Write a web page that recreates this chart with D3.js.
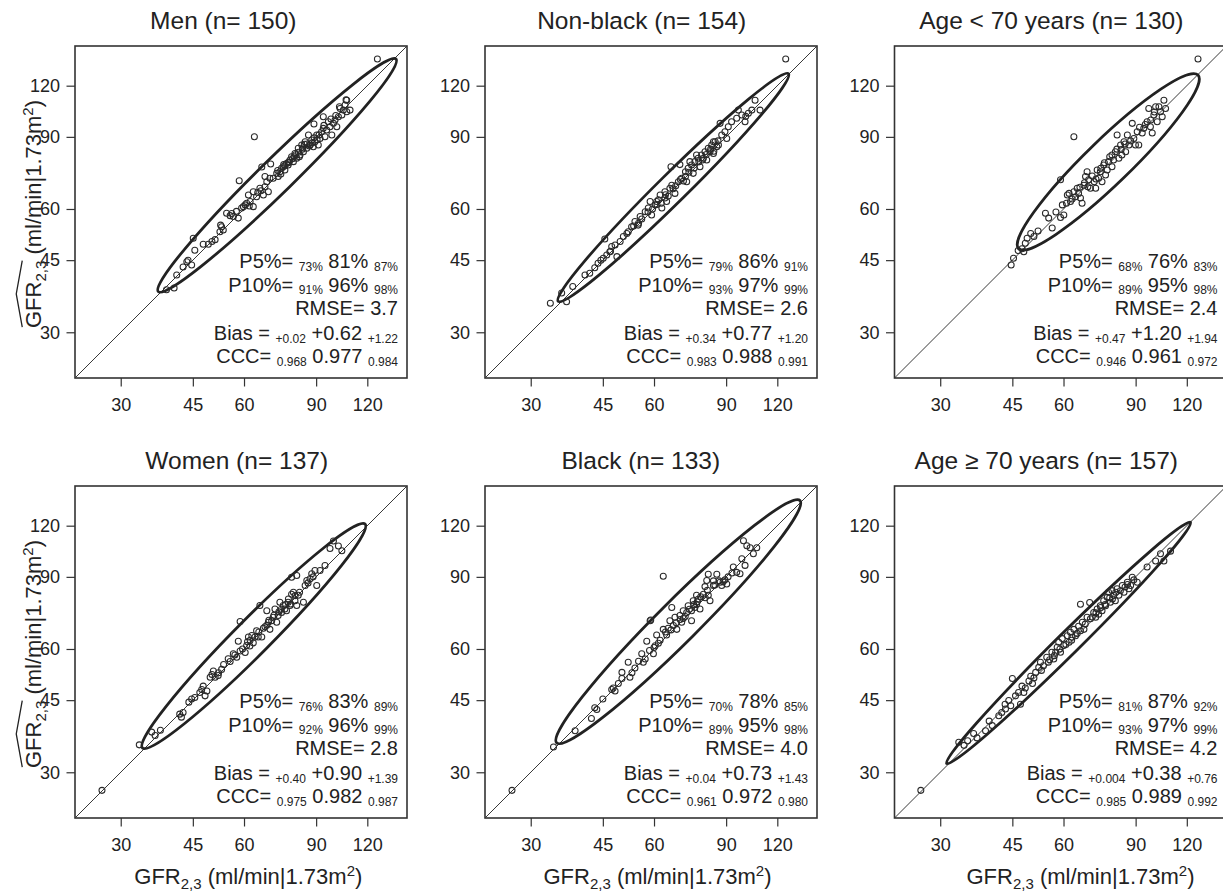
<!DOCTYPE html>
<html><head><meta charset="utf-8">
<script src="https://cdn.jsdelivr.net/npm/d3@7"></script>
<style>
body{margin:0;background:#fff}
svg{display:block}
text{font-family:"Liberation Sans",Arial,Helvetica,sans-serif;fill:#222}
</style>
</head><body>
<svg id="chart" width="1223" height="892"></svg>
<script>
// ---------------- DATA ----------------
const panelTitles = ["Men (n= 150)", "Non-black (n= 154)", "Age < 70 years (n= 130)",
                     "Women (n= 137)", "Black (n= 133)", "Age \u2265 70 years (n= 157)"];
const tickValues = [30, 45, 60, 90, 120];
const axisDomain = [23.2, 150];

const ptsMen = [[38.8,38.1],[40.5,38.5],[41.1,41.4],[42.6,43.3],[43.5,44.6],[44.7,43.8],[43.8,45.0],[45.5,47.6],[45.1,50.9],[47.7,49.2],[49.1,49.2],[50.1,50.0],[51.0,50.5],[52.4,52.8],[52.9,54.3],[53.4,53.3],[52.6,54.8],[54.4,58.6],[55.5,57.8],[56.5,57.5],[58.1,57.0],[59.2,60.3],[59.8,60.8],[60.4,61.4],[60.9,62.0],[62.1,62.6],[63.2,60.8],[61.5,64.9],[63.2,66.1],[64.4,64.3],[65.6,67.4],[66.9,64.9],[67.5,68.0],[68.2,69.9],[68.8,66.1],[67.5,72.0],[69.4,71.3],[70.7,71.3],[72.1,73.3],[72.7,72.0],[73.4,74.0],[74.1,75.4],[74.8,76.1],[75.5,74.7],[76.2,77.5],[76.9,76.8],[77.7,79.0],[78.4,80.5],[79.2,78.3],[79.9,82.0],[80.7,79.8],[81.4,84.4],[82.2,81.3],[83.0,86.0],[83.8,82.8],[84.6,87.6],[85.4,84.4],[86.2,90.9],[87.0,86.0],[87.8,88.4],[88.6,85.1],[89.4,87.6],[90.3,90.9],[91.1,86.0],[92.0,89.2],[92.8,92.6],[93.7,94.4],[94.6,90.1],[95.5,93.5],[93.7,100.8],[96.4,98.0],[97.3,95.3],[98.3,90.9],[99.2,97.1],[100.1,98.9],[101.1,95.3],[102.0,100.8],[103.0,105.6],[104.0,101.8],[104.9,104.6],[106.9,103.6],[108.9,104.6],[105.9,107.6],[106.9,110.6],[102.6,106.6],[63.6,90.1],[58.4,70.3],[66.3,76.0],[69.7,77.3],[88.9,96.8],[106.5,110.8],[127.0,139.4],[79.5,80.5],[81.5,82.5],[83.5,84.5],[85.5,86.5],[88.0,87.0],[75.5,76.5],[77.0,78.0],[90.5,88.5],[72.5,74.5],[73.8,73.0],[75.0,77.0],[77.3,77.9],[78.8,79.6],[80.2,81.4],[81.9,80.5],[83.3,83.9],[84.2,86.3],[86.6,85.5],[89.0,89.5],[91.5,91.0],[94.0,96.0],[97.8,99.5],[100.5,101.5],[56.0,58.5],[57.5,59.2],[61.8,61.0],[64.8,65.8],[66.0,66.5]];

const ptsNonBlack = [[125.8,139.4],[33.5,35.3],[35.7,37.4],[36.7,35.6],[40.7,41.4],[41.8,41.8],[43.0,43.1],[43.8,44.2],[45.1,45.5],[45.5,50.7],[46.0,46.3],[46.8,47.2],[48.2,49.0],[48.7,45.9],[49.6,50.0],[50.5,51.4],[51.5,52.3],[52.9,54.3],[53.9,55.9],[55.5,57.5],[56.0,56.7],[57.1,59.1],[58.1,60.3],[58.7,62.6],[59.2,58.0],[60.4,61.4],[61.5,63.2],[62.1,64.9],[62.7,60.3],[63.8,66.1],[64.4,62.6],[65.6,67.4],[66.3,68.6],[66.0,76.1],[69.4,77.0],[67.5,65.5],[68.8,69.9],[70.1,71.3],[71.6,74.0],[72.1,69.9],[72.7,75.4],[74.1,76.8],[74.8,73.3],[75.5,78.3],[76.9,79.8],[77.7,76.1],[78.4,81.3],[79.9,82.8],[80.7,79.0],[81.4,84.4],[83.0,86.0],[83.8,82.0],[84.6,87.6],[86.2,86.0],[87.8,90.9],[87.0,97.1],[89.4,92.6],[90.3,89.2],[91.1,95.3],[92.8,98.0],[95.5,99.9],[96.4,104.6],[98.3,101.8],[100.1,98.0],[102.0,102.8],[104.0,104.6],[105.9,110.6],[108.9,104.6],[71.6,72.0],[76.2,81.3],[79.2,79.8],[82.2,82.8],[85.4,85.1],[63.8,63.8],[60.9,62.6],[54.9,54.8],[51.9,52.8],[47.3,48.6],[73.4,78.3],[83.8,87.6],[58.0,59.0],[59.5,60.0],[61.0,61.5],[62.5,62.0],[64.0,65.0],[65.0,64.5],[66.8,67.2],[67.8,68.4],[69.6,70.8],[70.8,70.2],[73.0,73.8],[75.2,75.5],[77.2,78.2],[78.8,79.0],[80.5,81.5],[82.5,84.0],[84.0,83.0],[86.0,88.0],[44.5,45.0],[47.0,47.3],[53.5,54.5],[55.0,55.4],[38.0,38.8],[100.5,101.0]];

const ptsAgeLt70 = [[127.8,139.4],[63.6,90.1],[44.7,43.8],[45.3,45.5],[47.5,48.0],[48.4,49.5],[48.0,47.2],[49.9,52.3],[48.9,50.9],[54.2,58.6],[55.2,57.0],[56.3,53.9],[59.0,57.2],[60.1,58.0],[59.6,61.4],[59.0,70.7],[61.3,64.9],[62.4,62.6],[63.6,66.1],[64.2,64.3],[64.8,67.4],[66.0,63.8],[66.6,62.0],[67.3,68.6],[68.5,74.0],[69.1,70.7],[69.8,67.4],[71.3,69.9],[72.5,74.7],[73.1,71.3],[74.5,69.9],[75.2,76.8],[73.8,74.0],[76.7,74.7],[77.3,78.3],[78.8,76.1],[80.3,82.8],[81.1,90.9],[81.9,79.8],[82.7,86.0],[84.3,87.6],[85.1,82.8],[85.9,90.9],[86.7,86.0],[88.3,97.1],[89.1,89.2],[90.8,92.6],[91.6,86.0],[93.4,92.0],[94.2,94.4],[96.0,98.0],[96.9,105.6],[97.8,95.3],[99.7,101.8],[100.7,106.6],[101.6,98.0],[103.5,103.6],[105.5,110.6],[106.5,105.6],[104.5,100.8],[98.8,92.0],[76.0,72.6],[71.9,67.4],[65.3,65.5],[78.8,81.3],[83.3,81.3],[89.9,86.0],[102.6,106.6],[50.8,51.4],[61.9,65.5],[67.9,72.0],[67.5,69.5],[68.8,68.0],[70.5,72.2],[72.0,71.0],[74.0,75.4],[75.5,77.8],[77.8,80.5],[79.5,79.0],[81.0,84.0],[83.0,83.8],[84.8,86.5],[87.5,88.0],[92.0,95.0],[95.0,96.5],[98.0,99.0],[100.0,103.5],[63.0,63.5],[65.8,67.8],[61.0,62.0],[57.5,59.0],[52.0,53.0],[46.5,47.5]];

const ptsWomen = [[27.0,27.1],[33.3,35.0],[35.7,37.6],[36.4,36.9],[41.8,41.6],[42.6,42.0],[42.2,40.9],[44.7,45.3],[45.5,45.7],[46.8,47.0],[47.3,47.8],[47.7,48.7],[48.2,46.1],[49.6,51.2],[50.1,52.0],[51.0,51.2],[51.9,51.7],[50.5,53.0],[54.9,56.8],[55.5,55.9],[57.6,57.3],[58.7,59.3],[58.1,62.7],[58.7,70.0],[60.4,58.8],[60.9,61.2],[62.1,63.0],[62.7,64.7],[63.2,62.1],[64.4,66.5],[65.6,76.6],[66.3,64.2],[66.9,67.4],[68.2,74.4],[68.8,69.7],[69.4,67.0],[70.7,71.7],[71.4,75.1],[72.1,69.7],[73.4,78.0],[74.1,73.7],[74.8,76.6],[76.2,74.4],[76.9,78.0],[78.4,81.6],[79.2,82.5],[79.9,78.7],[78.4,89.8],[80.7,90.7],[83.8,78.0],[84.6,85.7],[85.4,88.2],[87.0,89.1],[87.8,91.6],[89.4,93.3],[90.3,85.7],[92.0,93.3],[94.6,95.9],[97.3,105.5],[99.2,110.1],[102.0,107.1],[104.0,104.2],[52.9,53.5],[56.5,58.4],[61.5,64.2],[70.1,70.3],[72.7,72.4],[75.5,75.1],[77.7,76.6],[81.4,81.2],[80.7,76.6],[68.2,68.6],[65.0,64.2],[48.7,47.4],[57.0,58.0],[59.5,60.0],[61.2,62.5],[62.0,61.0],[63.8,64.2],[65.2,66.0],[67.5,68.0],[69.0,70.5],[71.0,72.5],[73.0,74.0],[74.0,75.0],[75.8,77.0],[77.0,79.5],[78.0,77.3],[80.0,81.0],[82.0,82.5],[86.0,87.0],[88.5,90.0],[52.0,52.5],[53.5,55.0],[44.0,44.5],[37.5,38.0]];

const ptsBlack = [[27.0,27.1],[34.1,34.6],[38.5,37.9],[42.2,40.6],[43.0,43.1],[43.5,42.7],[47.3,47.8],[47.7,48.2],[48.2,47.4],[49.1,49.4],[50.1,50.8],[50.1,52.6],[52.4,51.2],[53.9,53.9],[51.9,55.7],[56.0,58.4],[56.5,55.7],[57.1,56.7],[57.6,62.7],[59.8,58.4],[60.4,61.1],[60.9,64.9],[62.1,63.0],[63.2,67.0],[64.4,64.9],[65.6,70.3],[66.3,75.8],[58.7,70.3],[58.9,70.6],[63.2,90.3],[66.9,68.5],[67.5,71.7],[68.2,67.0],[69.4,72.4],[70.1,69.7],[70.7,74.4],[72.1,73.7],[72.7,76.5],[74.1,70.3],[74.8,78.7],[75.5,75.8],[76.2,77.1],[76.9,79.4],[77.7,75.1],[79.2,81.6],[79.9,85.2],[80.7,88.2],[81.4,81.2],[82.2,78.7],[81.4,91.3],[83.8,88.0],[85.4,91.3],[87.0,87.3],[87.8,85.7],[89.4,88.5],[90.3,86.5],[93.7,95.1],[95.5,92.3],[97.3,91.6],[98.3,99.7],[100.1,96.0],[101.1,107.2],[103.0,106.0],[104.9,102.5],[106.9,106.0],[99.2,110.3],[74.1,74.4],[76.2,81.2],[83.8,85.7],[70.7,71.2],[65.0,67.4],[60.0,60.5],[61.5,62.0],[64.0,66.0],[66.0,66.8],[68.0,69.5],[69.5,70.8],[71.5,72.0],[73.2,75.0],[75.0,77.0],[76.5,78.2],[78.0,80.5],[80.0,80.0],[81.0,83.5],[84.5,86.0],[86.5,88.0],[88.5,87.5],[91.0,90.0],[93.0,92.0],[55.0,56.0],[53.0,52.5],[45.0,45.3],[58.5,59.5]];

const ptsAgeGe70 = [[26.9,27.1],[33.3,35.5],[34.3,34.9],[36.2,37.3],[36.9,36.4],[38.7,37.9],[40.2,39.0],[41.7,41.2],[42.4,42.0],[43.3,42.8],[44.1,44.9],[45.0,50.8],[44.6,43.6],[45.8,46.1],[46.6,47.0],[47.1,44.0],[47.5,48.7],[48.4,48.2],[49.4,50.1],[49.9,51.5],[50.4,49.4],[51.3,52.6],[52.2,54.1],[52.7,55.7],[53.6,54.6],[54.6,57.3],[55.1,55.7],[56.2,58.9],[56.8,56.7],[57.9,60.6],[58.4,62.3],[59.0,58.9],[59.6,63.6],[60.1,61.2],[61.3,64.6],[61.9,62.3],[62.4,65.9],[63.6,67.0],[64.2,64.6],[66.0,77.2],[69.5,77.9],[65.3,68.2],[66.7,69.7],[67.3,67.0],[68.5,71.7],[69.8,71.1],[71.1,73.7],[71.9,71.7],[72.5,75.1],[73.8,76.5],[74.5,74.4],[75.2,78.7],[76.7,80.2],[77.3,82.5],[78.1,78.0],[78.8,83.3],[79.6,81.2],[81.1,84.2],[81.9,81.2],[83.5,85.7],[84.3,82.5],[85.9,87.3],[87.5,85.7],[89.1,88.5],[90.8,87.3],[88.3,89.8],[96.0,95.1],[100.7,98.4],[103.5,102.5],[109.5,104.0],[105.5,98.4],[80.3,78.7],[73.1,72.9],[62.9,64.1],[57.4,58.9],[48.0,47.0],[86.7,84.2],[76.0,76.5],[50.8,51.0],[53.0,53.2],[55.5,56.5],[57.0,57.8],[58.8,60.0],[60.8,61.5],[62.8,63.0],[64.8,65.5],[66.0,66.5],[67.8,69.0],[70.5,71.8],[72.0,73.5],[74.0,75.8],[75.8,77.0],[77.8,80.0],[79.0,79.5],[80.5,82.5],[82.6,83.2],[84.8,85.0],[86.0,86.2],[43.2,44.0],[39.5,40.0],[35.0,35.8]];

const panelPoints = [ptsMen, ptsNonBlack, ptsAgeLt70, ptsWomen, ptsBlack, ptsAgeGe70];

// ellipse tips (measured, estimated) and half-width in log units
const ellipseLow  = [[37.05,37.7],[35.0,35.7],[46.6,48.0],[33.9,34.4],[34.7,35.4],[31.1,31.5]];
const ellipseHigh = [[141.0,139.4],[127.8,128.4],[127.8,127.4],[118.5,121.1],[136.3,138.3],[122.5,122.3]];
const ellipseHalfWidth = [0.095, 0.08, 0.125, 0.1, 0.115, 0.062];

const statP5   = [["73%","81%","87%"],["79%","86%","91%"],["68%","76%","83%"],["76%","83%","89%"],["70%","78%","85%"],["81%","87%","92%"]];
const statP10  = [["91%","96%","98%"],["93%","97%","99%"],["89%","95%","98%"],["92%","96%","99%"],["89%","95%","98%"],["93%","97%","99%"]];
const statRMSE = ["3.7","2.6","2.4","2.8","4.0","4.2"];
const statBias = [["+0.02","+0.62","+1.22"],["+0.34","+0.77","+1.20"],["+0.47","+1.20","+1.94"],["+0.40","+0.90","+1.39"],["+0.04","+0.73","+1.43"],["+0.004","+0.38","+0.76"]];
const statCCC  = [["0.968","0.977","0.984"],["0.983","0.988","0.991"],["0.946","0.961","0.972"],["0.975","0.982","0.987"],["0.961","0.972","0.980"],["0.985","0.989","0.992"]];

// ---------------- LAYOUT ----------------
const W = 332;
const lefts = [75, 485, 894.5];
const tops = [46, 486];
const titleCx = [223.3, 641.7, 1051.3, 236.7, 640.8, 1046.3];
const xlabCx = [248.3, 657.5, 1080.5];
const INK = "#222";

const svg = d3.select("#chart");

function axisLabel(sel, withHat) {
  const t = sel.append("text").attr("text-anchor", "middle").attr("font-size", 22);
  t.append("tspan").text("GFR");
  t.append("tspan").attr("font-size", 15).attr("dy", 5).text("2,3");
  t.append("tspan").attr("dy", -5).text(" (ml/min|1.73m");
  t.append("tspan").attr("font-size", 15).attr("dy", -8).text("2");
  t.append("tspan").attr("dy", 8).text(")");
  if (withHat) {
    const node = t.node();
    const e0 = node.getExtentOfChar(0), e5 = node.getExtentOfChar(5);
    const x0 = e0.x + 1, x1 = e5.x + e5.width;
    const top = -22 * 0.716;
    sel.append("path")
      .attr("d", `M${x0},${top - 3} L${(x0 + x1) / 2},${top - 9} L${x1},${top - 3}`)
      .attr("fill", "none").attr("stroke", INK).attr("stroke-width", 1.3);
  }
  return t;
}

panelTitles.forEach((title, i) => {
  const col = i % 3, row = Math.floor(i / 3);
  const L = lefts[col], T = tops[row];
  const g = svg.append("g").attr("transform", `translate(${L},${T})`);
  const x = d3.scaleLog().domain(axisDomain).range([0, W]);
  const y = d3.scaleLog().domain(axisDomain).range([W, 0]);

  g.append("clipPath").attr("id", "clip" + i)
    .append("rect").attr("width", W).attr("height", W);
  const plot = g.append("g").attr("clip-path", `url(#clip${i})`);

  // identity line
  plot.append("line")
    .attr("x1", x(axisDomain[0])).attr("y1", y(axisDomain[0]))
    .attr("x2", x(axisDomain[1])).attr("y2", y(axisDomain[1]))
    .attr("stroke", INK).attr("stroke-width", 0.9);

  // ellipse
  const lo = ellipseLow[i], hi = ellipseHigh[i];
  const p1 = [x(lo[0]), y(lo[1])], p2 = [x(hi[0]), y(hi[1])];
  const cx = (p1[0] + p2[0]) / 2, cy = (p1[1] + p2[1]) / 2;
  const a = Math.hypot(p2[0] - p1[0], p2[1] - p1[1]) / 2;
  const ang = Math.atan2(p2[1] - p1[1], p2[0] - p1[0]) * 180 / Math.PI;
  const b = x(100 * Math.exp(ellipseHalfWidth[i])) - x(100);
  plot.append("ellipse")
    .attr("cx", cx).attr("cy", cy).attr("rx", a).attr("ry", b)
    .attr("transform", `rotate(${ang},${cx},${cy})`)
    .attr("fill", "none").attr("stroke", INK).attr("stroke-width", 2.8);

  // points
  plot.selectAll("circle.pt").data(panelPoints[i]).enter().append("circle")
    .attr("class", "pt")
    .attr("cx", d => x(d[0])).attr("cy", d => y(d[1])).attr("r", 3)
    .attr("fill", "none").attr("stroke", "#2a2a2a").attr("stroke-width", 1.05);

  // box
  g.append("rect").attr("width", W).attr("height", W)
    .attr("fill", "none").attr("stroke", "#333").attr("stroke-width", 1.6);

  // axes
  const ax = g.append("g").attr("transform", `translate(0,${W})`)
    .call(d3.axisBottom(x).tickValues(tickValues).tickFormat(d3.format("d"))
      .tickSize(8.5).tickSizeOuter(0).tickPadding(12));
  const ay = g.append("g")
    .call(d3.axisLeft(y).tickValues(tickValues).tickFormat(d3.format("d"))
      .tickSize(8.5).tickSizeOuter(0).tickPadding(6.5));
  [ax, ay].forEach(s => {
    s.select(".domain").remove();
    s.selectAll(".tick line").attr("stroke", "#333").attr("stroke-width", 1.2);
    s.selectAll(".tick text").attr("font-size", 18).attr("fill", INK)
      .style("font-family", '"Liberation Sans",Arial,sans-serif');
  });

  // title
  svg.append("text").attr("x", titleCx[i]).attr("y", T - 17.5)
    .attr("text-anchor", "middle").attr("font-size", 24.5).text(title);

  // stats
  const rx = W - 9;
  const big = 20, small = 12, sd = 2.5;
  function statLine(yb, label, vals) {
    const t = g.append("text").attr("x", rx).attr("y", W + yb)
      .attr("text-anchor", "end").attr("font-size", big);
    t.append("tspan").text(label + " ");
    if (vals.length === 1) { t.append("tspan").text(vals[0]); return; }
    t.append("tspan").attr("font-size", small).attr("dy", sd).text(vals[0]);
    t.append("tspan").attr("dy", -sd).text(" " + vals[1] + " ");
    t.append("tspan").attr("font-size", small).attr("dy", sd).text(vals[2]);
  }
  statLine(-109.7, "P5%=", statP5[i]);
  statLine(-86.3, "P10%=", statP10[i]);
  statLine(-63, "RMSE=", [statRMSE[i]]);
  statLine(-38, "Bias =", statBias[i]);
  statLine(-14.7, "CCC=", statCCC[i]);

  // axis titles
  if (col === 0) {
    const yl = svg.append("g").attr("transform", `translate(41,${T + W / 2 + 2}) rotate(-90)`);
    axisLabel(yl, true);
  }
  if (row === 1) {
    const xl = svg.append("g").attr("transform", `translate(${xlabCx[col]},884)`);
    axisLabel(xl, false);
  }
});
</script>
</body></html>
